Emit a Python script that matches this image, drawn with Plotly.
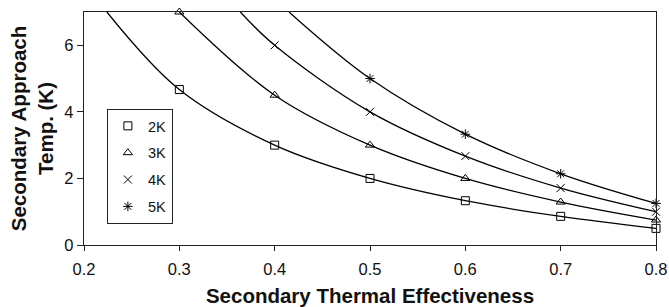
import plotly.graph_objects as go

# Data
effectiveness = [0.3, 0.4, 0.5, 0.6, 0.7, 0.8]
approach_2K = [4.67, 3.0, 2.0, 1.33, 0.86, 0.5]
approach_3K = [7.0, 4.5, 3.0, 2.0, 1.29, 0.75]
approach_4K = [None, 6.0, 4.0, 2.67, 1.71, 1.0]
approach_5K = [None, None, 5.0, 3.33, 2.14, 1.25]
# where each curve leaves the top of the plot (y = 7)
curve_top_x = {"2K": 0.224, "3K": 0.3, "4K": 0.364, "5K": 0.415}
y_top = 7.0

series = [
    ("2K", approach_2K, "square-open"),
    ("3K", approach_3K, "triangle-up-open"),
    ("4K", approach_4K, "x-thin-open"),
    ("5K", approach_5K, "asterisk-open"),
]

fig = go.Figure()
for name, vals, sym in series:
    xs = [x for x, v in zip(effectiveness, vals) if v is not None]
    ys = [v for v in vals if v is not None]
    cx, cy = list(xs), list(ys)
    if curve_top_x[name] < xs[0]:
        cx = [curve_top_x[name]] + cx
        cy = [y_top] + cy
    fig.add_trace(go.Scatter(
        x=cx, y=cy, mode="lines", line=dict(color="black", width=1.3, shape="spline", smoothing=1.0),
        showlegend=False, hoverinfo="skip"))
    fig.add_trace(go.Scatter(
        x=xs, y=ys, mode="markers", name=name, legendgroup=name,
        marker=dict(symbol=sym, size=8, color="black", line=dict(color="black", width=1)),
        cliponaxis=False))

FAM = "Arial, Liberation Sans, sans-serif"
axis_font = dict(family=FAM, size=16.5, color="#111")
title_font = dict(family=FAM, size=20.5, color="#111")

fig.update_layout(
    width=669, height=307,
    margin=dict(l=84, r=13, t=12, b=62),
    paper_bgcolor="white", plot_bgcolor="white",
    font=axis_font,
    showlegend=True,
    legend=dict(x=0.04, y=0.584, xanchor="left", yanchor="top",
                bordercolor="#222", borderwidth=1, bgcolor="white",
                font=dict(family=FAM, size=14.5, color="#111"),
                tracegroupgap=5, itemwidth=30),
    xaxis=dict(range=[0.2, 0.8], tickmode="array", tickvals=[0.2, 0.3, 0.4, 0.5, 0.6, 0.7, 0.8],
               ticktext=["0.2", "0.3", "0.4", "0.5", "0.6", "0.7", "0.8"],
               showline=True, linecolor="#222", linewidth=1.4, mirror=True,
               ticks="outside", ticklen=5, tickcolor="#222", showgrid=False, zeroline=False,
               tickfont=axis_font, automargin=False, ticklabelstandoff=4,
               title=dict(text="<b>Secondary Thermal Effectiveness</b>", font=title_font, standoff=12)),
    yaxis=dict(range=[0, 7], tickmode="array", tickvals=[0, 2, 4, 6],
               showline=True, linecolor="#222", linewidth=1.4, mirror=True,
               ticks="outside", ticklen=6, tickcolor="#222", showgrid=False, zeroline=False,
               tickfont=axis_font, automargin=False,
               title=dict(text="<b>Secondary Approach<br>Temp. (K)</b>", font=title_font, standoff=5)),
)

fig.write_html("out.html", config={"displayModeBar": False},
               post_script="document.body.style.margin='0';")
